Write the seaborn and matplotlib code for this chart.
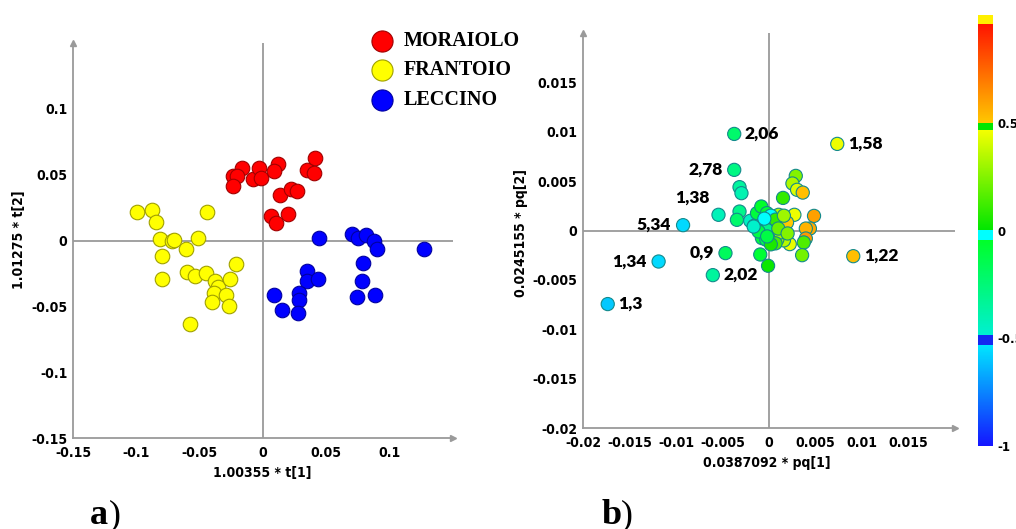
import numpy as np
import matplotlib
matplotlib.use("Agg")
import matplotlib.pyplot as plt
import seaborn as sns
from matplotlib.colors import ListedColormap, Normalize, to_rgb
from matplotlib.cm import ScalarMappable

# ---------------- data: panel a (scores) ----------------
moraiolo_t1 = [-0.0233, -0.0163, -0.0202, -0.0233, -0.0079, -0.0031, -0.0013, 0.0115, 0.0089,
               0.0134, 0.0220, 0.0265, 0.0349, 0.0412, 0.0404, 0.0060, 0.0199, 0.0102]
moraiolo_t2 = [0.0493, 0.0549, 0.0488, 0.0417, 0.0468, 0.0549, 0.0473, 0.0582, 0.0526,
               0.0347, 0.0389, 0.0379, 0.0539, 0.0625, 0.0514, 0.0184, 0.0202, 0.0132]
frantoio_t1 = [-0.0994, -0.0879, -0.0842, -0.0813, -0.0719, -0.0700, -0.0517, -0.0446, -0.0611,
               -0.0800, -0.0210, -0.0603, -0.0538, -0.0451, -0.0378, -0.0359, -0.0262, -0.0800,
               -0.0386, -0.0294, -0.0404, -0.0268, -0.0580]
frantoio_t2 = [0.0220, 0.0228, 0.0139, 0.0010, 0.0000, 0.0005, 0.0020, 0.0220, -0.0063,
               -0.0114, -0.0177, -0.0240, -0.0271, -0.0248, -0.0311, -0.0354, -0.0296, -0.0291,
               -0.0400, -0.0417, -0.0468, -0.0501, -0.0632]
leccino_t1 = [0.0443, 0.0703, 0.0750, 0.0816, 0.0873, 0.0900, 0.1269, 0.0789, 0.0779, 0.0745,
              0.0881, 0.0344, 0.0351, 0.0435, 0.0283, 0.0288, 0.0089, 0.0152, 0.0278]
leccino_t2 = [0.0020, 0.0051, 0.0018, 0.0038, -0.0005, -0.0063, -0.0063, -0.0169, -0.0304, -0.0430,
              -0.0412, -0.0228, -0.0304, -0.0291, -0.0397, -0.0455, -0.0417, -0.0531, -0.0551]
groups = ["MORAIOLO", "FRANTOIO", "LECCINO"]

# ---------------- data: panel b (loadings) ----------------
pq1 = [-0.00374, 0.00734, -0.00374, -0.00543, -0.00924, -0.00468, -0.01187, -0.00604, -0.01734, 0.00906,
       -0.00317, -0.00296, -0.00317, -0.00345, -0.00202, -0.00159, -0.00129, -0.00083, -0.00022, 0.00014,
       -0.00022, -0.00076, -0.00112, -0.00029, -0.00094, -0.00010, 0.00050, 0.00104, 0.00151, 0.00288,
       0.00252, 0.00302, 0.00363, 0.00273, 0.00484, 0.00440, 0.00396, 0.00396, 0.00374, 0.00356,
       0.00194, 0.00223, 0.00160, 0.00090, 0.00120, 0.00070, 0.00020, -0.00020, -0.00165, 0.00020,
       0.00070, 0.00100, -0.00050, 0.00160, 0.00200]
pq2 = [0.00978, 0.00877, 0.00614, 0.00159, 0.00054, -0.00229, -0.00314, -0.00452, -0.00745, -0.00260,
       0.00439, 0.00378, 0.00192, 0.00108, 0.00098, 0.00048, 0.00176, 0.00243, 0.00176, 0.00091,
       0.00007, -0.00077, -0.00010, -0.00094, -0.00243, -0.00357, 0.00125, 0.00159, 0.00330, 0.00553,
       0.00476, 0.00412, 0.00384, 0.00159, 0.00148, 0.00020, 0.00020, -0.00081, -0.00121, -0.00250,
       0.00081, -0.00138, -0.00100, -0.00090, -0.00020, -0.00130, -0.00140, -0.00060, 0.00040, 0.00150,
       0.00110, 0.00020, 0.00120, 0.00150, -0.00030]
corr = [-0.22, 0.45, -0.28, -0.42, -0.56, -0.18, -0.56, -0.35, -0.60, 0.52,
        -0.35, -0.40, -0.30, -0.22, -0.45, -0.46, -0.10, -0.05, -0.08, -0.06,
        -0.30, -0.10, -0.12, -0.15, -0.08, 0.02, 0.30, 0.35, 0.10, 0.25,
        0.33, 0.42, 0.52, 0.45, 0.60, 0.58, 0.55, 0.62, 0.15, 0.22,
        0.50, 0.44, 0.35, 0.28, 0.32, 0.15, 0.05, -0.12, -0.47, -0.02,
        0.10, 0.20, -0.04, 0.30, 0.25]
point_labels = ["2,06", "1,58", "2,78", "1,38", "5,34", "0,9", "1,34", "2,02", "1,3", "1,22"]

ticks_a = [-0.15, -0.1, -0.05, 0, 0.05, 0.1]
ticklabels_a = ["-0.15", "-0.1", "-0.05", "0", "0.05", "0.1"]
ticks_b = [-0.02, -0.015, -0.01, -0.005, 0, 0.005, 0.01, 0.015]
ticklabels_b = ["-0.02", "-0.015", "-0.01", "-0.005", "0", "0.005", "0.01", "0.015"]
cbar_ticks = [-1, -0.5, 0, 0.5]
cbar_ticklabels = ["-1", "-0.5", "0", "0.5"]

# ---------------- style ----------------
sns.set_theme(style="white")
plt.rcParams["font.family"] = ["DejaVu Sans"]
plt.rcParams["text.color"] = "black"
plt.rcParams["axes.labelcolor"] = "black"
plt.rcParams["xtick.color"] = "black"
plt.rcParams["ytick.color"] = "black"

TICKFONT = dict(family="DejaVu Sans", stretch="condensed", weight="bold", size=10)
GRAY = "#9a9a9a"

# banded colormap (SIMCA-like)
segs = [(0.000, 0.234, "#1414ff", "#00e6ff"),
        (0.234, 0.257, "#1428f0", "#1428f0"),
        (0.257, 0.478, "#00f0d2", "#00ff28"),
        (0.478, 0.501, "#00ffff", "#00ffff"),
        (0.501, 0.733, "#00e600", "#f5ff00"),
        (0.733, 0.749, "#00e600", "#00e600"),
        (0.749, 0.979, "#ffc800", "#ff1400"),
        (0.979, 1.001, "#fff000", "#fff000")]
N = 1000
cols = []
for i in range(N):
    t = (i + 0.5) / N
    for a0, a1, c0, c1 in segs:
        if a0 <= t < a1:
            f = (t - a0) / (a1 - a0)
            r0, r1 = np.array(to_rgb(c0)), np.array(to_rgb(c1))
            cols.append(r0 + (r1 - r0) * f)
            break
cmap = ListedColormap(cols)
norm = Normalize(-1, 1)

fig = plt.figure(figsize=(10.16, 5.29), dpi=100)
axA = fig.add_axes([73 / 1016, 1 - 438 / 529, 380 / 1016, 395 / 529])
axB = fig.add_axes([583 / 1016, 1 - 428 / 529, 372 / 1016, 395 / 529])
cax = fig.add_axes([978 / 1016, 1 - 446 / 529, 15 / 1016, 431 / 529])


def style_axes(ax, lim, ticks, ticklabels):
    ax.set_xlim(lim)
    ax.set_ylim(lim)
    ax.set_facecolor("white")
    for s in ["top", "right"]:
        ax.spines[s].set_visible(False)
    for s in ["left", "bottom"]:
        ax.spines[s].set_color(GRAY)
        ax.spines[s].set_linewidth(1.3)
    ax.axhline(0, color=GRAY, lw=1.3, zorder=1)
    ax.axvline(0, color=GRAY, lw=1.3, zorder=1)
    ax.set_xticks(ticks)
    ax.set_yticks(ticks)
    ax.set_xticklabels(ticklabels, fontdict=TICKFONT)
    ax.set_yticklabels(ticklabels, fontdict=TICKFONT)
    ax.tick_params(axis="x", length=0, pad=6, colors="black")
    ax.tick_params(axis="y", length=0, pad=4, colors="black")
    ax.plot([0], [1], marker="^", ms=4, color=GRAY, transform=ax.transAxes, clip_on=False)
    ax.plot([1], [0], marker=">", ms=4, color=GRAY, transform=ax.transAxes, clip_on=False)
    ax.grid(False)


# ---------------- panel a ----------------
style_axes(axA, (-0.15, 0.15), ticks_a, ticklabels_a)
grp_data = [(moraiolo_t1, moraiolo_t2, "#ff0000", "#a00000"),
            (frantoio_t1, frantoio_t2, "#ffff00", "#a0a000"),
            (leccino_t1, leccino_t2, "#0000ff", "#0000a0")]
for name, (xs, ys, fc, ec) in zip(groups, grp_data):
    sns.scatterplot(x=xs, y=ys, color=fc, edgecolor=ec, linewidth=0.8, s=110,
                    ax=axA, label=name, zorder=3)
handles, labels = axA.get_legend_handles_labels()
if axA.get_legend() is not None:
    axA.get_legend().remove()
leg = fig.legend(handles, labels, loc="upper left", bbox_to_anchor=(368 / 1016, 1 - 31 / 529),
                 frameon=False, markerscale=1.45, handlelength=1.4, handletextpad=0.35,
                 labelspacing=0.47, borderpad=0, borderaxespad=0,
                 prop=dict(family="Liberation Serif", size=14.5, weight="bold"))
for t in leg.get_texts():
    t.set_color("black")
axA.set_xlabel("1.00355 * t[1]", fontdict=TICKFONT, va="center")
axA.set_ylabel("1.01275 * t[2]", fontdict=TICKFONT, va="center")
axA.xaxis.set_label_coords((262 - 73) / 380, (438 - 473) / 395)
axA.yaxis.set_label_coords((19 - 73) / 380, (438 - 240) / 395)

# ---------------- panel b ----------------
style_axes(axB, (-0.02, 0.02), ticks_b, ticklabels_b)
sns.scatterplot(x=pq1, y=pq2, hue=corr, palette=cmap, hue_norm=norm, s=90,
                edgecolor="#138a8c", linewidth=0.8, ax=axB, legend=False, zorder=3)
right_side = {"2,06", "1,58", "1,22", "1,3", "2,02"}
for lab, x, y in zip(point_labels, pq1, pq2):
    if lab in right_side:
        off, ha = (7.5, 0), "left"
    elif lab == "1,38":
        off, ha = (-6.5, 12), "right"
    else:
        off, ha = (-8.5, 0), "right"
    axB.annotate(lab, (x, y), xytext=off, textcoords="offset points", ha=ha, va="center",
                 family="Lato", weight="heavy", size=12.5, color="black", zorder=4)
axB.set_xlabel("0.0387092 * pq[1]", fontdict=TICKFONT, va="center")
axB.set_ylabel("0.0245155 * pq[2]", fontdict=TICKFONT, va="center")
axB.xaxis.set_label_coords((767 - 583) / 372, (428 - 463) / 395)
axB.yaxis.set_label_coords((521 - 583) / 372, (428 - 233) / 395)

# ---------------- colorbar ----------------
sm = ScalarMappable(norm=norm, cmap=cmap)
cb = fig.colorbar(sm, cax=cax)
cb.outline.set_visible(False)
cb.set_ticks(cbar_ticks)
cb.set_ticklabels(cbar_ticklabels)
cax.tick_params(length=0, pad=3, colors="black")
for t in cax.get_yticklabels():
    t.set_fontweight("bold")
    t.set_fontsize(8.5)

# ---------------- panel letters ----------------
base = 1 - 524 / 529
fig.text(90 / 1016, base, "a", family="Liberation Serif", weight="bold", size=26, va="baseline")
fig.text(109 / 1016, base, ")", family="Liberation Serif", size=26, va="baseline")
fig.text(602 / 1016, base, "b", family="Liberation Serif", weight="bold", size=26, va="baseline")
fig.text(621 / 1016, base, ")", family="Liberation Serif", size=26, va="baseline")

fig.savefig("out.png", dpi=100)
